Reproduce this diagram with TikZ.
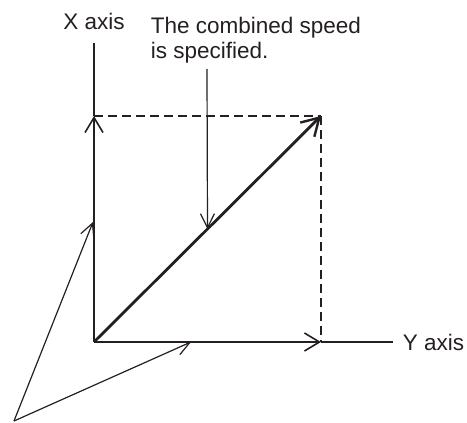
\documentclass[tikz,border=0pt]{standalone}
\usepackage{fontspec}
\setmainfont{Liberation Sans}
\usepackage{xcolor}
\usetikzlibrary{arrows.meta, positioning, calc}
\definecolor{inkblack}{rgb}{0.14, 0.12, 0.13}

\begin{document}
\begin{tikzpicture}[x=1pt, y=-1pt, line width=1.8pt, draw=inkblack, text=inkblack,
        barb/.style={-{Straight Barb[length=15pt, width=18pt, line width=1.6pt]}},
        pointer/.style={line width=1.2pt, -{Straight Barb[length=14pt, width=14pt, line width=1.2pt]}},
        lbl/.style={font=\fontsize{22.5}{25}\selectfont, inner sep=0pt}]
        \useasboundingbox (0,0) rectangle (467,423);
        % Points
        \coordinate (O) at (94,342);
        \coordinate (P) at (321,116);
        \coordinate (Xa) at (94,116);
        \coordinate (Ya) at (321,342);
        \coordinate (Xend) at (94,43);
        \coordinate (Yend) at (393,342);
        \coordinate (M) at ($(O)!0.5!(P)$);
        \coordinate (src) at (207,69);
        \coordinate (foot) at (14,421);
        \coordinate (Xm) at (93,222);
        \coordinate (Ym) at (191,342);
        % Axes
        \draw [barb] (O) -- (Xa);
        \draw (Xa) -- (Xend);
        \draw [barb] (O) -- (Ya);
        \draw (Ya) -- (Yend);
        \node [lbl, anchor=base] (xlabel) at (94,29) {X axis};
        \node [lbl, anchor=base west] (ylabel) at (402,350) {Y axis};
        % Components
        \draw [dashed, dash pattern=on 9pt off 5pt] (Xa) -- (P);
        \draw [dashed, dash pattern=on 9pt off 5pt] (P) -- (Ya);
        % Combined vector
        \draw [line width=2.8pt, -{Straight Barb[length=17pt, width=20pt, line width=2.4pt]}] (O) -- (P);
        \node [lbl, anchor=north west, align=left] (note) at (150,16.5) {The combined speed\\is specified.};
        \draw [pointer] (src) -- (M);
        % Axis pointers
        \draw [pointer] (foot) -- (Xm);
        \draw [pointer] (foot) -- (Ym);
\end{tikzpicture}
\end{document}
